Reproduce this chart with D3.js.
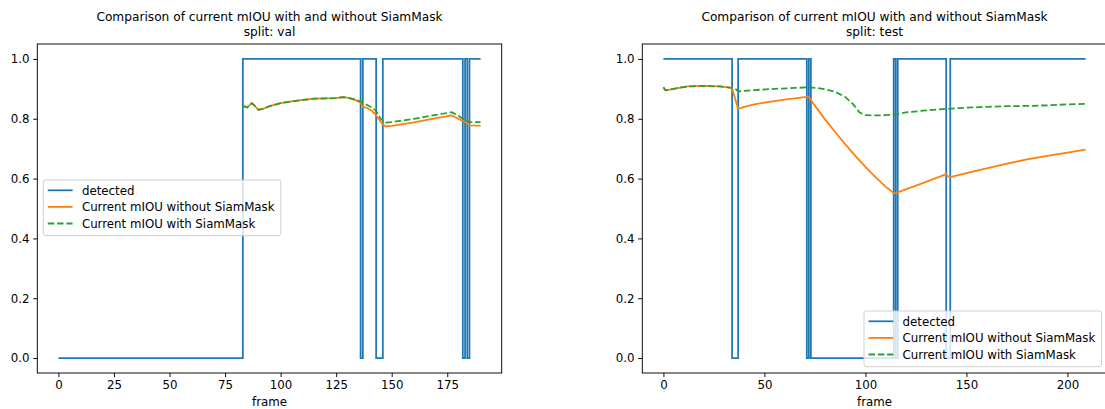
<!DOCTYPE html>
<html lang="en">
	<head>
		<meta charset="utf-8">
		<title>mIOU comparison</title>
		<script src="https://d3js.org/d3.v7.min.js"></script>
		<style type="text/css">
		body { margin: 0; background: white; }
		text {
				font-family: "DejaVu Sans", sans-serif;
				fill: #000;
		}
		</style>
	</head>
	<body>
		<script type="text/javascript">

		// ---- split: val ----
		var valDetFrames = [0, 83, 136, 137, 143, 146, 182, 183, 184, 185, 190];
		var valDetValues = [0, 1, 0, 1, 0, 1, 0, 1, 0, 1, 1];

		var valFrames = [83, 85, 87, 88, 90, 92, 95, 100, 105, 110, 115, 120, 125, 128, 130, 133, 136,
						137, 139, 141, 143, 145, 147, 150, 160, 170, 177, 180, 182, 184, 185, 190];
		var valWithout = [0.843, 0.838, 0.852, 0.846, 0.830, 0.833, 0.842, 0.852, 0.858, 0.863, 0.867, 0.868, 0.869, 0.872, 0.871, 0.864, 0.855,
						0.840, 0.836, 0.827, 0.812, 0.790, 0.775, 0.776, 0.788, 0.802, 0.811, 0.800, 0.792, 0.786, 0.778, 0.777];
		var valWith = [0.843, 0.838, 0.852, 0.846, 0.830, 0.833, 0.842, 0.852, 0.858, 0.863, 0.867, 0.868, 0.869, 0.872, 0.871, 0.866, 0.858,
						0.852, 0.846, 0.838, 0.826, 0.800, 0.787, 0.789, 0.800, 0.813, 0.822, 0.810, 0.800, 0.793, 0.789, 0.789];

		// ---- split: test ----
		var testDetFrames = [0, 34, 37, 71, 72, 73, 114, 115, 116, 140, 142, 209];
		var testDetValues = [1, 0, 1, 0, 1, 0, 1, 0, 1, 0, 1, 1];

		var testFramesA = [0, 1, 5, 12, 20, 28, 33, 34, 37, 40, 45, 50, 55, 60, 65, 70, 72, 73, 75, 80, 85, 90, 95,
						100, 105, 110, 114, 115, 116, 120, 130, 140, 141, 142, 150, 160, 170, 180, 190, 200, 209];
		var testWithout = [0.905, 0.895, 0.900, 0.908, 0.910, 0.908, 0.904, 0.902, 0.833, 0.840, 0.848, 0.854, 0.859, 0.864, 0.868, 0.872, 0.873, 0.863, 0.844, 0.798, 0.756, 0.715, 0.676,
						0.639, 0.605, 0.573, 0.552, 0.551, 0.554, 0.564, 0.589, 0.615, 0.607, 0.605, 0.618, 0.634, 0.650, 0.664, 0.676, 0.687, 0.697];

		var testFramesB = [0, 1, 5, 12, 20, 28, 33, 35, 37, 45, 55, 65, 72, 76, 80, 85, 90, 94, 97,
						100, 105, 110, 115, 120, 130, 140, 150, 160, 170, 180, 190, 200, 209];
		var testWith = [0.905, 0.895, 0.900, 0.908, 0.910, 0.908, 0.904, 0.903, 0.892, 0.896, 0.900, 0.903, 0.905, 0.903, 0.899, 0.890, 0.873, 0.848, 0.822,
						0.812, 0.811, 0.812, 0.815, 0.821, 0.828, 0.833, 0.837, 0.840, 0.842, 0.843, 0.845, 0.848, 0.850];

		var yTicks = [0, 0.2, 0.4, 0.6, 0.8, 1.0];
		var valXTicks = [0, 25, 50, 75, 100, 125, 150, 175];
		var testXTicks = [0, 50, 100, 150, 200];
		var legendLabels = ["detected", "Current mIOU without SiamMask", "Current mIOU with SiamMask"];

		//Width and height
		var w = 1105;
		var h = 409;
		var plotTop = 44, plotBottom = 373;
		var colors = ["#1f77b4", "#ff7f0e", "#2ca02c"];
		var lw = 1.77;
		var fs = 11.8;

		var svg = d3.select("body")
			.append("svg")
			.attr("width", w)
			.attr("height", h);

		function zip(xs, ys) {
			return xs.map(function(d, i) { return [d, ys[i]]; });
		}

		function panel(opt) {
			var x = d3.scaleLinear().domain(opt.xDomain).range([opt.left, opt.right]);
			var y = d3.scaleLinear().domain([-0.05, 1.05]).range([plotBottom, plotTop]);
			var g = svg.append("g");

			var line = d3.line()
				.x(function(d) { return x(d[0]); })
				.y(function(d) { return y(d[1]); });

			// detected (step)
			g.append("path")
				.attr("d", line.curve(d3.curveStepAfter)(zip(opt.detFrames, opt.detValues)))
				.attr("fill", "none")
				.attr("stroke", colors[0])
				.attr("stroke-width", lw);

			line.curve(d3.curveLinear);
			g.append("path")
				.attr("d", line(zip(opt.framesA, opt.without)))
				.attr("fill", "none")
				.attr("stroke", colors[1])
				.attr("stroke-width", lw)
				.attr("stroke-linejoin", "round");

			g.append("path")
				.attr("d", line(zip(opt.framesB, opt.with)))
				.attr("fill", "none")
				.attr("stroke", colors[2])
				.attr("stroke-width", lw)
				.attr("stroke-dasharray", "6.5,2.8");

			// axes
			var xAxis = g.append("g")
				.attr("transform", "translate(0," + plotBottom + ")")
				.call(d3.axisBottom(x).tickValues(opt.xTicks).tickSize(4.1).tickPadding(3.5).tickFormat(d3.format("d")));
			var yAxis = g.append("g")
				.attr("transform", "translate(" + opt.left + ",0)")
				.call(d3.axisLeft(y).tickValues(yTicks).tickSize(4.1).tickPadding(3.8).tickFormat(d3.format(".1f")));
			[xAxis, yAxis].forEach(function(a) {
				a.select(".domain").remove();
				a.selectAll("line").attr("stroke", "#000").attr("stroke-width", 0.94);
				a.selectAll("text").attr("font-size", fs).attr("font-family", "DejaVu Sans").attr("fill", "#000");
			});

			g.append("rect")
				.attr("x", opt.left)
				.attr("y", plotTop)
				.attr("width", opt.right - opt.left)
				.attr("height", plotBottom - plotTop)
				.attr("fill", "none")
				.attr("stroke", "#000")
				.attr("stroke-width", 0.94);

			// x label
			g.append("text")
				.attr("x", (opt.left + opt.right) / 2)
				.attr("y", 406)
				.attr("text-anchor", "middle")
				.attr("font-size", fs)
				.text("frame");

			// title
			var t = g.append("text")
				.attr("x", (opt.left + opt.right) / 2)
				.attr("text-anchor", "middle")
				.attr("font-size", 12.2);
			t.append("tspan").attr("x", (opt.left + opt.right) / 2).attr("y", 21).text("Comparison of current mIOU with and without SiamMask");
			t.append("tspan").attr("x", (opt.left + opt.right) / 2).attr("y", 35.5).text(opt.title);

			// legend
			var lg = g.append("g").attr("transform", "translate(" + opt.legX + "," + opt.legY + ")");
			lg.append("rect")
				.attr("width", 237.5)
				.attr("height", 55.7)
				.attr("rx", 2.4)
				.attr("fill", "white")
				.attr("fill-opacity", 0.8)
				.attr("stroke", "#cccccc")
				.attr("stroke-width", 0.94);
			legendLabels.forEach(function(lab, i) {
				var yy = 10.3 + i * 16.6;
				lg.append("line")
					.attr("x1", 4.5).attr("x2", 29.3)
					.attr("y1", yy).attr("y2", yy)
					.attr("stroke", colors[i])
					.attr("stroke-width", lw)
					.attr("stroke-dasharray", i == 2 ? "6.5,2.8" : null);
				lg.append("text")
					.attr("x", 38.6)
					.attr("y", yy + 4.2)
					.attr("font-size", fs)
					.text(lab);
			});
		}

		panel({
			left: 37.3, right: 501.7, xDomain: [-9.5, 199.5], xTicks: valXTicks,
			detFrames: valDetFrames, detValues: valDetValues,
			framesA: valFrames, without: valWithout, framesB: valFrames, with: valWith,
			title: "split: val", legX: 43.3, legY: 180
		});

		panel({
			left: 642.3, right: 1106.7, xDomain: [-10.45, 219.45], xTicks: testXTicks,
			detFrames: testDetFrames, detValues: testDetValues,
			framesA: testFramesA, without: testWithout, framesB: testFramesB, with: testWith,
			title: "split: test", legX: 864, legY: 311
		});

		</script>
	</body>
</html>
